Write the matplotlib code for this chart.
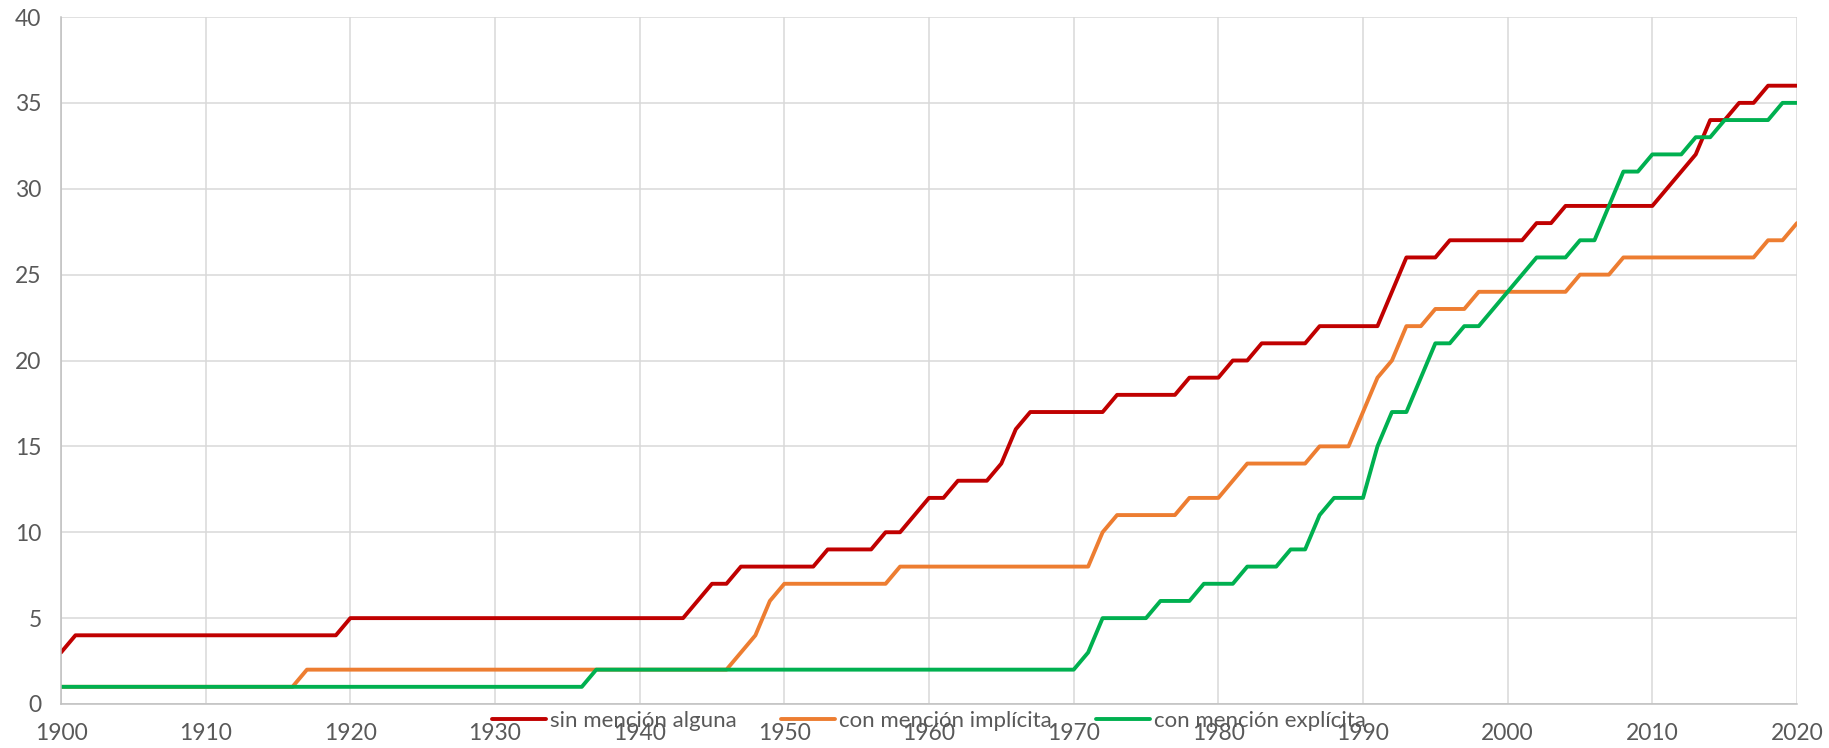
import numpy as np
import matplotlib.pyplot as plt

# years 1900..2020
years = np.arange(1900, 2021)

# sin mención alguna (one row per decade, 1900-1909, 1910-1919, ...)
sin_mencion = [
    3, 4, 4, 4, 4, 4, 4, 4, 4, 4,
    4, 4, 4, 4, 4, 4, 4, 4, 4, 4,
    5, 5, 5, 5, 5, 5, 5, 5, 5, 5,
    5, 5, 5, 5, 5, 5, 5, 5, 5, 5,
    5, 5, 5, 5, 6, 7, 7, 8, 8, 8,
    8, 8, 8, 9, 9, 9, 9, 10, 10, 11,
    12, 12, 13, 13, 13, 14, 16, 17, 17, 17,
    17, 17, 17, 18, 18, 18, 18, 18, 19, 19,
    19, 20, 20, 21, 21, 21, 21, 22, 22, 22,
    22, 22, 24, 26, 26, 26, 27, 27, 27, 27,
    27, 27, 28, 28, 29, 29, 29, 29, 29, 29,
    29, 30, 31, 32, 34, 34, 35, 35, 36, 36,
    36,
]

# con mención implícita
implicita = [
    1, 1, 1, 1, 1, 1, 1, 1, 1, 1,
    1, 1, 1, 1, 1, 1, 1, 2, 2, 2,
    2, 2, 2, 2, 2, 2, 2, 2, 2, 2,
    2, 2, 2, 2, 2, 2, 2, 2, 2, 2,
    2, 2, 2, 2, 2, 2, 2, 3, 4, 6,
    7, 7, 7, 7, 7, 7, 7, 7, 8, 8,
    8, 8, 8, 8, 8, 8, 8, 8, 8, 8,
    8, 8, 10, 11, 11, 11, 11, 11, 12, 12,
    12, 13, 14, 14, 14, 14, 14, 15, 15, 15,
    17, 19, 20, 22, 22, 23, 23, 23, 24, 24,
    24, 24, 24, 24, 24, 25, 25, 25, 26, 26,
    26, 26, 26, 26, 26, 26, 26, 26, 27, 27,
    28,
]

# con mención explícita
explicita = [
    1, 1, 1, 1, 1, 1, 1, 1, 1, 1,
    1, 1, 1, 1, 1, 1, 1, 1, 1, 1,
    1, 1, 1, 1, 1, 1, 1, 1, 1, 1,
    1, 1, 1, 1, 1, 1, 1, 2, 2, 2,
    2, 2, 2, 2, 2, 2, 2, 2, 2, 2,
    2, 2, 2, 2, 2, 2, 2, 2, 2, 2,
    2, 2, 2, 2, 2, 2, 2, 2, 2, 2,
    2, 3, 5, 5, 5, 5, 6, 6, 6, 7,
    7, 7, 8, 8, 8, 9, 9, 11, 12, 12,
    12, 15, 17, 17, 19, 21, 21, 22, 22, 23,
    24, 25, 26, 26, 26, 27, 27, 29, 31, 31,
    32, 32, 32, 33, 33, 34, 34, 34, 34, 35,
    35,
]

labels = ['sin mención alguna', 'con mención implícita', 'con mención explícita']
colors = ['#C00000', '#ED7D31', '#00B050']

plt.rcParams['font.family'] = ['Lato', 'DejaVu Sans']

fig = plt.figure(figsize=(18.29, 7.48), dpi=100)
ax = fig.add_axes([61 / 1829, 44 / 748, (1797 - 61) / 1829, (704 - 17) / 748])

for vals, lab, col in zip([sin_mencion, implicita, explicita], labels, colors):
    ax.plot(years, vals, color=col, lw=2.8, label=lab, solid_capstyle='round')

ax.set_xlim(1900, 2020)
ax.set_ylim(0, 40)
ax.set_xticks(range(1900, 2021, 10))
ax.set_yticks(range(0, 41, 5))
ax.grid(True, color='#D9D9D9', lw=1.1)
ax.set_axisbelow(True)
for s in ['top', 'right']:
    ax.spines[s].set_visible(False)
for s in ['left', 'bottom']:
    ax.spines[s].set_color('#BFBFBF')
    ax.spines[s].set_linewidth(1.1)
ax.tick_params(length=0, labelsize=16.5, labelcolor='#595959', pad=14)

fig.legend(loc='center', bbox_to_anchor=(0.508, 0.036), ncol=3, frameon=False,
           fontsize=16, labelcolor='#595959', handlelength=2.4, handletextpad=0.2,
           columnspacing=2.0)

fig.savefig('out.png', dpi=100)
